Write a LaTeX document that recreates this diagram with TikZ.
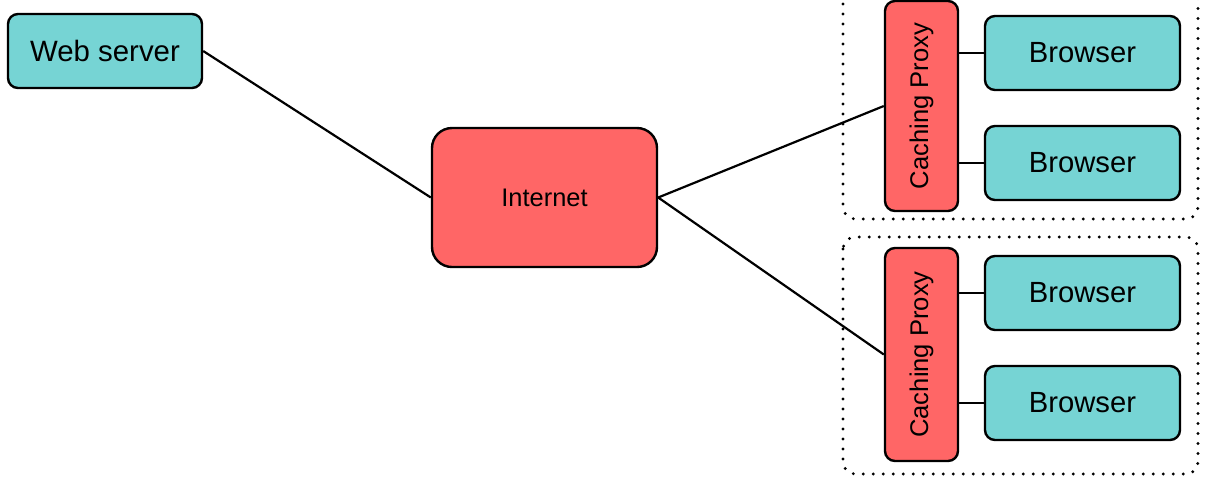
\documentclass[tikz,border=0pt]{standalone}
\usepackage{fontspec}
\setmainfont{Liberation Sans}
\usetikzlibrary{positioning}

\definecolor{boxteal}{RGB}{118,212,212}
\definecolor{boxred}{RGB}{255,102,102}

\tikzset{
    hostbox/.style={draw, line width=1.2pt, rounded corners=5pt, fill=boxteal,
        inner sep=0pt, minimum width=97.5pt, minimum height=37pt},
    proxybox/.style={draw, line width=1.2pt, rounded corners=5pt, fill=boxred,
        inner sep=0pt, minimum width=36.5pt, font=\fontsize{12.8}{14}\selectfont},
    netbox/.style={draw, line width=1.2pt, rounded corners=10pt, fill=boxred,
        inner sep=0pt, minimum width=112.5pt, minimum height=69.5pt,
        font=\fontsize{12.7}{14}\selectfont},
    link/.style={line width=1.1pt},
    lan/.style={line width=1.6pt, dash pattern=on 0pt off 5pt, line cap=round, rounded corners=6pt}
}

\begin{document}
\begin{tikzpicture}[x=0.5pt, y=-0.5pt]
    \useasboundingbox (0,0) rectangle (1206,484);

    % local networks
    \draw[lan] (843,-18) rectangle (1198,219);
    \draw[lan] (843,237) rectangle (1198,474);

    \node[hostbox, minimum width=97pt, font=\fontsize{14.7}{16}\selectfont] (web) at (105,51) {Web server};
    \node[netbox] (inet) at (544.5,197.5) {Internet};

    % proxies
    \node[proxybox, minimum height=105pt] (proxyA) at (921.5,106) {\rotatebox{90}{Caching Proxy}};
    \node[proxybox, minimum height=106.5pt] (proxyB) at (921.5,354.5) {\rotatebox{90}{Caching Proxy}};

    % browsers
    \foreach \name/\y in {brA1/53, brA2/163, brB1/293, brB2/403}
        \node[hostbox, font=\fontsize{14.6}{16}\selectfont] (\name) at (1082.5,\y) {Browser};

    \draw[link] (web.east) -- (inet.west);
    \draw[link] (inet.east) -- (proxyA.west);
    \draw[link] (inet.east) -- (proxyB.west);
    \draw[link] (brA1.west) -- (brA1.west -| proxyA.east);
    \draw[link] (brA2.west) -- (brA2.west -| proxyA.east);
    \draw[link] (brB1.west) -- (brB1.west -| proxyB.east);
    \draw[link] (brB2.west) -- (brB2.west -| proxyB.east);
\end{tikzpicture}
\end{document}
